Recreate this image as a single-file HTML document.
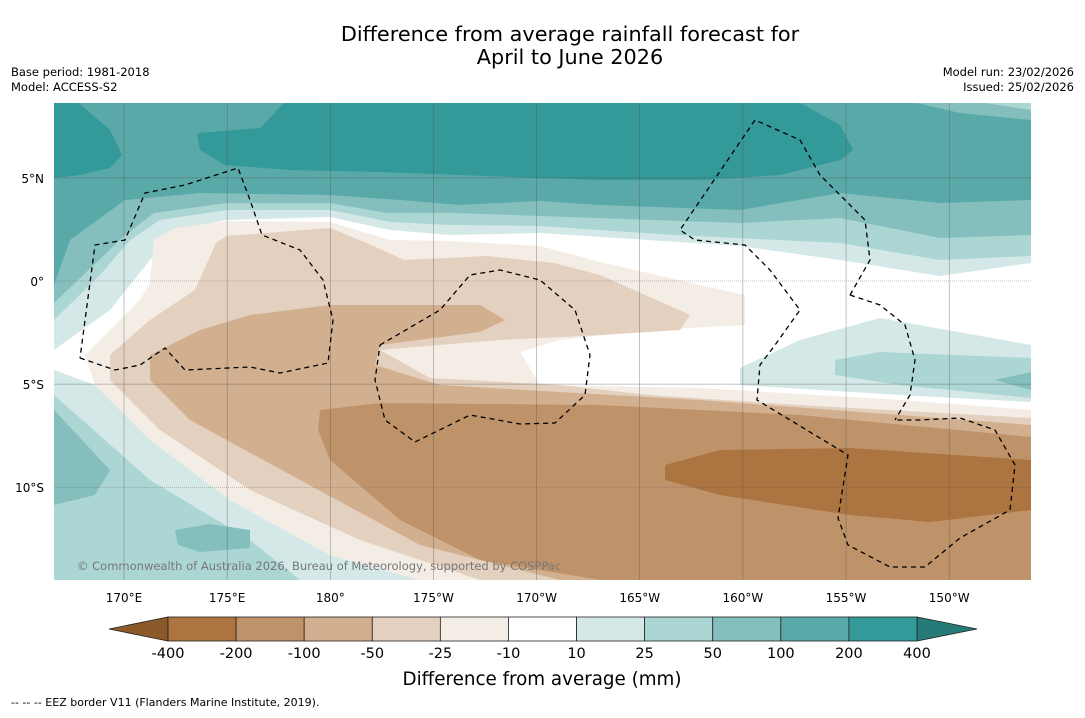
<!DOCTYPE html>
<html><head><meta charset="utf-8">
<style>
body{margin:0;background:#fff;font-family:"Liberation Sans","DejaVu Sans",sans-serif;}
svg text{font-family:"DejaVu Sans","Liberation Sans",sans-serif;}
</style></head>
<body>
<svg id="chart" width="1085" height="713" viewBox="0 0 1085 713" xmlns="http://www.w3.org/2000/svg">
<rect width="1085" height="713" fill="#fff"/>
<text x="570" y="41" font-size="20.8" text-anchor="middle">Difference from average rainfall forecast for</text>
<text x="570" y="64" font-size="20.8" text-anchor="middle">April to June 2026</text>
<text x="11" y="76" font-size="11.5">Base period: 1981-2018</text>
<text x="11" y="91" font-size="11.5">Model: ACCESS-S2</text>
<text x="1074" y="76" font-size="11.5" text-anchor="end">Model run: 23/02/2026</text>
<text x="1074" y="91" font-size="11.5" text-anchor="end">Issued: 25/02/2026</text>
<defs><clipPath id="mc"><rect x="54" y="103" width="977" height="477"/></clipPath></defs>
<g id="map" clip-path="url(#mc)"></g>
<g id="axes"></g>
<g id="cbar"></g>
<text x="542" y="685" font-size="18.3" text-anchor="middle">Difference from average (mm)</text>
<text x="11" y="706" font-size="11">--  --  -- EEZ border V11 (Flanders Marine Institute, 2019).</text>
</svg>
<script>
const levels=[-400,-200,-100,-50,-25,-10,10,25,50,100,200,400];
const colors=["#ab7440","#bf936a","#d2b08f","#e4d0be","#f3ede6","#ffffff","#d4e9e7","#acd6d4","#84bfbe","#59a9a9","#339999"];
const extLow="#8c5a2a", extHigh="#267b78";
const lonTicks=["170°E","175°E","180°","175°W","170°W","165°W","160°W","155°W","150°W"];
const lonVals=[170,175,180,185,190,195,200,205,210];
const latTicks=["5°N","0°","5°S","10°S"];
const latVals=[5,0,-5,-10];
const NS="http://www.w3.org/2000/svg";
function lx(l){return 124+(l-170)*20.63;}
function ly(l){return 281-l*20.62;}
function el(t,a,p){const e=document.createElementNS(NS,t);for(const k in a)e.setAttribute(k,a[k]);p.appendChild(e);return e;}
const map=document.getElementById('map');
const bands=[
 [6,"54,103 1031,103 1031,263 940,276 840,260 740,246 540,233 450,235 390,230 330,217 227,220 175,230 150,260 110,310 54,350"],
 [7,"54,103 1031,103 1031,256 940,260 840,243 673,235 540,226 450,225 390,222 330,210 227,210 160,220 130,240 100,275 54,320"],
 [8,"54,103 1031,103 1031,235 940,238 840,218 740,223 540,216 454,213 387,213 330,203 227,203 154,213 124,236 54,303"],
 [9,"54,103 917,103 960,113 1031,120 1031,200 940,203 840,193 740,210 600,205 540,201 460,205 400,200 330,195 200,193 125,200 70,240 54,285"],
 [7,"985,103 1031,103 1031,110"],
 [10,"54,103 79,103 110,130 122,155 110,168 80,175 54,178"],
 [10,"197,133 200,150 225,165 290,170 380,172 540,178 600,180 700,180 780,175 840,160 853,150 840,125 800,103 284,103 260,128"],
 [6,"740,368 800,340 880,318 1031,345 1031,402 900,395 740,385"],
 [7,"835,360 880,352 1031,358 1031,398 900,385 835,375"],
 [8,"995,380 1031,372 1031,390"],
 [6,"54,370 95,385 150,440 230,500 330,555 420,580 54,580"],
 [7,"54,395 150,480 250,540 300,580 54,580"],
 [8,"54,410 110,470 95,495 54,505"],
 [8,"175,530 210,524 250,530 250,548 200,552 178,545"],
 [4,"85,355 110,330 140,300 150,283 154,240 175,228 227,221 330,222 390,240 450,241 540,246 600,262 700,285 745,295 745,325 650,330 560,340 520,352 540,385 700,388 900,400 1031,410 1031,580 420,580 330,555 230,500 150,440 95,385"],
 [3,"110,355 150,320 195,290 216,243 227,236 330,228 367,243 404,260 487,256 554,263 600,275 690,315 680,330 600,335 500,340 380,350 430,378 560,385 650,395 800,405 1031,418 1031,580 480,580 360,540 250,490 160,430 110,380"],
 [2,"150,355 200,330 250,315 330,305 420,305 480,305 505,320 480,332 380,345 375,365 440,385 560,392 700,400 900,415 1031,425 1031,580 560,580 420,545 300,480 190,420 150,380"],
 [1,"320,410 380,403 600,405 800,415 1031,437 1031,580 600,580 480,560 400,520 330,460 318,430"],
 [0,"665,465 720,450 850,448 1031,460 1031,510 930,522 850,515 720,495 665,480"]
];
bands.forEach((b,i)=>{const p=el('polygon',{points:b[1],fill:colors[b[0]]},map);

});
lonVals.forEach(v=>{const l=el('line',{x1:lx(v),x2:lx(v),y1:103,y2:580,stroke:'#555','stroke-width':0.5,opacity:0.7},map);

});
latVals.forEach(v=>{const l=el('line',{x1:54,x2:1031,y1:ly(v),y2:ly(v),stroke:'#555','stroke-width':0.5,opacity:0.7,'stroke-dasharray':v==0||v==-10?'1,1':''},map);

});
const eez=["80,358 115,370 140,365 165,348 185,370 250,367 280,373 328,363 333,320 323,280 300,250 262,235 250,200 238,168 185,185 145,193 125,240 95,245 80,358",
"380,345 440,310 470,275 500,270 540,280 575,310 590,355 585,395 555,423 520,424 470,415 415,442 385,420 375,380 380,345",
"850,295 870,260 865,220 820,175 800,140 755,120 680,230 695,240 745,245 770,270 800,310 775,345 760,365 757,400 848,455 838,518 848,545 890,567 925,567 960,538 1010,510 1015,465 995,430 960,418 920,420 895,420",
"850,295 880,305 905,325 915,360 910,395 895,420"];
eez.forEach(s=>{const p=el('polyline',{points:s,fill:'none',stroke:'#000','stroke-width':1.3,'stroke-dasharray':'5,4'},map);

});
const cp=el('text',{x:77,y:570,'font-size':11.5,fill:'#777'},map);cp.textContent="© Commonwealth of Australia 2026, Bureau of Meteorology, supported by COSPPac";


const ax=document.getElementById('axes');
lonTicks.forEach((t,i)=>{const e=el('text',{x:lx(lonVals[i]),y:602,'font-size':12,'text-anchor':'middle'},ax);e.textContent=t;

});
latTicks.forEach((t,i)=>{const e=el('text',{x:44,y:ly(latVals[i])+5,'font-size':12,'text-anchor':'end'},ax);e.textContent=t;

});
const cb=document.getElementById('cbar');
const x0=168,x1=917,y0=617,h=24,w=(x1-x0)/colors.length;
const lt=el('polygon',{points:`109,${y0+h/2} ${x0},${y0} ${x0},${y0+h}`,fill:extLow,stroke:'#222','stroke-width':0.8},cb);


const rt=el('polygon',{points:`977,${y0+h/2} ${x1},${y0} ${x1},${y0+h}`,fill:extHigh,stroke:'#222','stroke-width':0.8},cb);


colors.forEach((c,i)=>{const r=el('rect',{x:x0+i*w,y:y0,width:w,height:h,fill:c,stroke:'#222','stroke-width':0.8},cb);

});
levels.forEach((v,i)=>{const t=el('text',{x:x0+i*w,y:658,'font-size':14.5,'text-anchor':'middle'},cb);t.textContent=v;

});
</script>
</body></html>
